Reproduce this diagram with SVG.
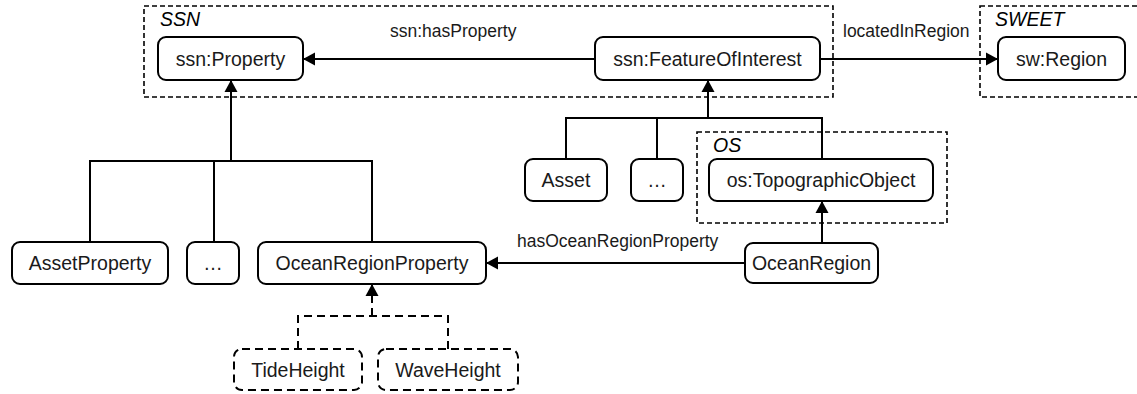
<svg xmlns="http://www.w3.org/2000/svg" width="1137" height="394" viewBox="0 0 1137 394">
<style>
.node rect{fill:#fff;stroke:#000;stroke-width:2}
.dnode rect{fill:#fff;stroke:#000;stroke-width:2;stroke-dasharray:8 5}
.grp{fill:none;stroke:#000;stroke-width:1.6;stroke-dasharray:5 3}
.t{font-family:"Liberation Sans",Arial,sans-serif;font-size:19.5px;fill:#1a1a1a;text-anchor:middle}
.g{font-family:"Liberation Sans",Arial,sans-serif;font-size:19.5px;font-style:italic;fill:#000}
.l{font-family:"Liberation Sans",Arial,sans-serif;font-size:17.5px;fill:#1a1a1a}
.c{fill:none;stroke:#000;stroke-width:2}
.cd{fill:none;stroke:#000;stroke-width:2;stroke-dasharray:8 5}
</style>
<defs>
<marker id="ah" markerUnits="userSpaceOnUse" markerWidth="14" markerHeight="14" refX="12" refY="7" orient="auto">
<path d="M0,0.5 L12,7 L0,13.5 Z" fill="#000"/>
</marker>
</defs>
<g id="groups">
<rect id="grp-ssn" class="grp" x="144" y="6" width="689" height="91"/>
<text class="g" x="160" y="26">SSN</text>
<rect id="grp-sweet" class="grp" x="980" y="6" width="170" height="91"/>
<text class="g" x="995" y="26">SWEET</text>
<rect id="grp-os" class="grp" x="697" y="132" width="250" height="91"/>
<text class="g" x="713" y="152">OS</text>
</g>
<g id="connectors">
<line class="c" x1="595" y1="59" x2="303" y2="59" marker-end="url(#ah)"/>
<text class="l" x="390" y="37">ssn:hasProperty</text>
<line class="c" x1="820" y1="59" x2="998" y2="59" marker-end="url(#ah)"/>
<text class="l" x="843" y="37">locatedInRegion</text>
<line class="c" x1="708" y1="118" x2="708" y2="80" marker-end="url(#ah)"/>
<path class="c" d="M566,159 V118 H822 V159 M657,118 V159"/>
<line class="c" x1="822" y1="243" x2="822" y2="201" marker-end="url(#ah)"/>
<line class="c" x1="745" y1="263" x2="486" y2="263" marker-end="url(#ah)"/>
<text class="l" x="517" y="247">hasOceanRegionProperty</text>
<line class="c" x1="231" y1="161" x2="231" y2="80" marker-end="url(#ah)"/>
<path class="c" d="M90,242 V161 H372 V242 M214,161 V242"/>
<line class="cd" x1="372" y1="316" x2="372" y2="284" marker-end="url(#ah)"/>
<path class="cd" d="M298,349 V316 H448 V349"/>
</g>
<g id="n-property" class="node"><rect x="158" y="37" width="145" height="43" rx="8"/><text class="t" x="230.5" y="65.5">ssn:Property</text></g>
<g id="n-foi" class="node"><rect x="595" y="37" width="225" height="43" rx="8"/><text class="t" x="707.5" y="65.5">ssn:FeatureOfInterest</text></g>
<g id="n-region" class="node"><rect x="998" y="37" width="127" height="43" rx="8"/><text class="t" x="1061.5" y="65.5">sw:Region</text></g>
<g id="n-asset" class="node"><rect x="525" y="159" width="82" height="42" rx="8"/><text class="t" x="566" y="187">Asset</text></g>
<g id="n-etc1" class="node"><rect x="631" y="159" width="52" height="42" rx="8"/><text class="t" x="657" y="187">…</text></g>
<g id="n-topo" class="node"><rect x="709" y="159" width="224" height="42" rx="8"/><text class="t" x="821" y="187">os:TopographicObject</text></g>
<g id="n-ocean" class="node"><rect x="745" y="243" width="133" height="40" rx="8"/><text class="t" x="811.5" y="270">OceanRegion</text></g>
<g id="n-assetprop" class="node"><rect x="12" y="242" width="156" height="42" rx="8"/><text class="t" x="90" y="270">AssetProperty</text></g>
<g id="n-etc2" class="node"><rect x="187" y="242" width="52" height="42" rx="8"/><text class="t" x="213" y="270">…</text></g>
<g id="n-oceanprop" class="node"><rect x="258" y="242" width="228" height="42" rx="8"/><text class="t" x="372" y="270">OceanRegionProperty</text></g>
<g id="n-tide" class="dnode"><rect x="234" y="349" width="128" height="41" rx="8"/><text class="t" x="298" y="376.5">TideHeight</text></g>
<g id="n-wave" class="dnode"><rect x="378" y="349" width="140" height="41" rx="8"/><text class="t" x="448" y="376.5">WaveHeight</text></g>
</svg>
